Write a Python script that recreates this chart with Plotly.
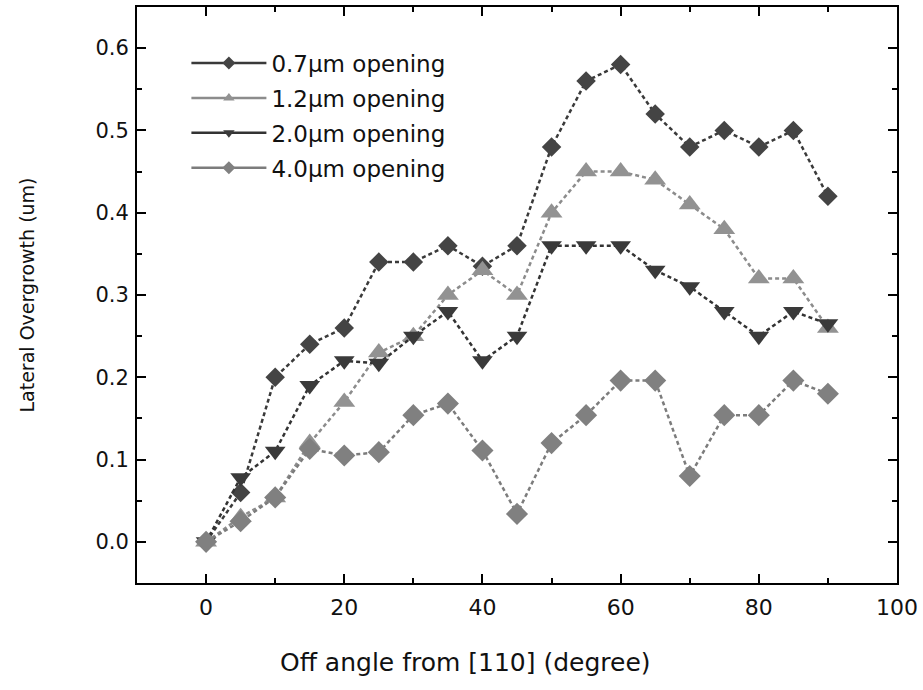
import plotly.graph_objects as go

# Off-angle from [110] in degrees
angle = [0, 5, 10, 15, 20, 25, 30, 35, 40, 45, 50, 55, 60, 65, 70, 75, 80, 85, 90]

# Lateral overgrowth (um) for each mask opening width
open_07 = [0.0, 0.06, 0.20, 0.24, 0.26, 0.34, 0.34, 0.36, 0.335, 0.36,
           0.48, 0.56, 0.58, 0.52, 0.48, 0.50, 0.48, 0.50, 0.42]
open_12 = [0.0, 0.03, 0.054, 0.12, 0.17, 0.23, 0.25, 0.30, 0.33, 0.30,
           0.40, 0.45, 0.45, 0.44, 0.41, 0.38, 0.32, 0.32, 0.26]
open_20 = [0.0, 0.078, 0.11, 0.19, 0.22, 0.217, 0.25, 0.28, 0.22, 0.25,
           0.36, 0.36, 0.36, 0.33, 0.31, 0.28, 0.25, 0.28, 0.265]
open_40 = [0.0, 0.025, 0.054, 0.113, 0.105, 0.109, 0.154, 0.168, 0.111, 0.034,
           0.12, 0.154, 0.196, 0.196, 0.08, 0.154, 0.154, 0.196, 0.18]

labels = ["0.7µm opening", "1.2µm opening", "2.0µm opening", "4.0µm opening"]
series = [open_07, open_12, open_20, open_40]
line_colors = ["#3a3a3a", "#8c8c8c", "#333333", "#7c7c7c"]
marker_colors = ["#444444", "#929292", "#3a3a3a", "#808080"]
symbols = ["diamond", "triangle-up", "triangle-down", "diamond"]
sizes = [15, 19, 18, 17]

fig = go.Figure()

# Data curves (thin broken lines with large markers)
for ys, lc, mc, sym, sz in zip(series, line_colors, marker_colors, symbols, sizes):
    fig.add_trace(go.Scatter(
        x=angle, y=ys, mode="lines+markers", showlegend=False,
        line=dict(color=lc, width=2.5, dash="4px,3px"),
        marker=dict(symbol=sym, size=sz, color=mc, line=dict(width=0)),
    ))

# Legend entries: solid lines with small markers
for name, lc, mc, sym in zip(labels, line_colors, marker_colors, symbols):
    fig.add_trace(go.Scatter(
        x=[None], y=[None], mode="lines+markers", name=name,
        legendgroup=name,
        line=dict(color=lc, width=2.5),
        marker=dict(symbol=sym, size=10, color=mc, line=dict(width=0)),
    ))

font_family = "DejaVu Sans, sans-serif"
text_color = "#111111"

axis_common = dict(
    showgrid=False, zeroline=False,
    showline=True, linecolor="black", linewidth=2, mirror="ticks",
    ticks="inside", ticklen=9, tickwidth=2, tickcolor="black",
)

fig.update_xaxes(
    range=[-10, 100], tick0=0, dtick=20,
    minor=dict(dtick=10, ticks="inside", ticklen=5, tickwidth=2, tickcolor="black"),
    tickfont=dict(family=font_family, size=22, color=text_color),
    ticklabelstandoff=4,
    **axis_common,
)
fig.update_yaxes(
    range=[-0.05, 0.65], tick0=0, dtick=0.1, tickformat=".1f",
    minor=dict(dtick=0.05, ticks="inside", ticklen=5, tickwidth=2, tickcolor="black"),
    tickfont=dict(family=font_family, size=21, color=text_color),
    title=dict(text="Lateral Overgrowth (um)", standoff=56,
               font=dict(family=font_family, size=19, color=text_color)),
    ticklabelstandoff=2,
    **axis_common,
)

# x-axis caption placed slightly left of the plot centre
fig.add_annotation(
    text="Off angle from [110] (degree)",
    xref="paper", yref="paper", x=0.432, y=-0.138,
    xanchor="center", yanchor="middle", showarrow=False,
    font=dict(family=font_family, size=25, color=text_color),
)

fig.update_layout(
    width=923, height=690,
    margin=dict(l=137, r=26, t=5, b=107),
    paper_bgcolor="white", plot_bgcolor="white",
    legend=dict(
        x=0.065, y=0.94, xanchor="left", yanchor="top",
        bgcolor="rgba(0,0,0,0)", borderwidth=0,
        font=dict(family=font_family, size=23, color=text_color),
        tracegroupgap=2, itemwidth=75,
    ),
)

fig.write_html("out.html")
